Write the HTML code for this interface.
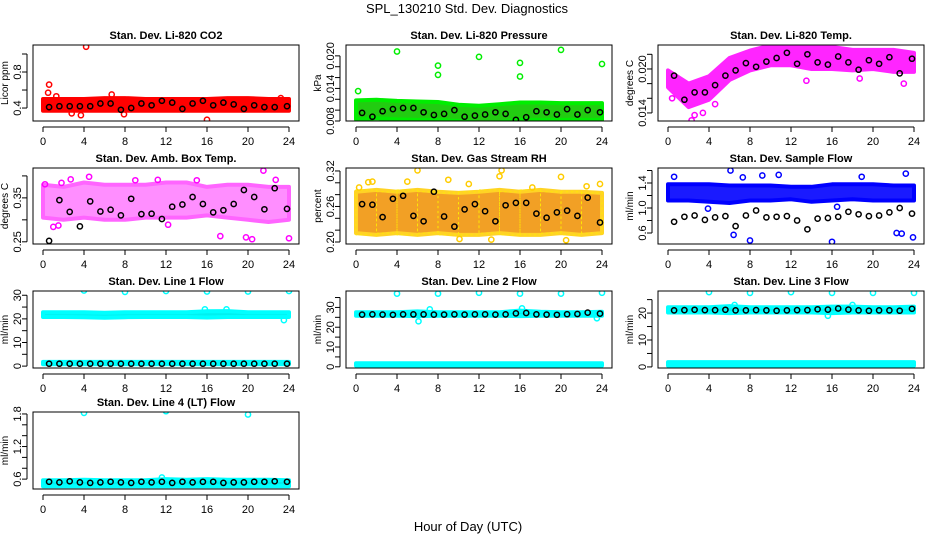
<!DOCTYPE html>
<html><head><meta charset="utf-8">
<style>
body{margin:0;background:#fff;}
svg{display:block;font-family:"Liberation Sans",Arial,sans-serif;}
</style></head>
<body>
<svg id="chart" width="936" height="540" viewBox="0 0 936 540">
<text x="467" y="13" text-anchor="middle" font-size="13">SPL_130210  Std. Dev. Diagnostics</text>
<text x="468" y="531" text-anchor="middle" font-size="13">Hour of Day (UTC)</text>
</svg>
<script>
// ---- shared data ----
const xTicks = [0,4,8,12,16,20,24];
const blackHours = [0.6,1.6,2.6,3.6,4.6,5.6,6.6,7.6,8.6,9.6,10.6,11.6,12.6,13.6,14.6,15.6,16.6,17.6,18.6,19.6,20.6,21.6,22.6,23.8];
const bandHours = [0,2,4,6,8,10,12,14,16,18,20,22,24];

// Panel 1: CO2
const co2Lo = [0.37,0.37,0.37,0.37,0.37,0.37,0.37,0.37,0.37,0.37,0.37,0.37,0.37];
const co2Hi = [0.50,0.50,0.50,0.51,0.51,0.50,0.50,0.50,0.50,0.51,0.51,0.50,0.50];
const co2OutX = [4.2,0.6,0.5,6.7,16,1.3,3.7,2.8,7.9,23.2];
const co2OutY = [1.08,0.66,0.57,0.55,0.27,0.53,0.32,0.34,0.33,0.51];
const co2Black = [0.41,0.42,0.42,0.42,0.42,0.45,0.45,0.38,0.40,0.45,0.43,0.48,0.46,0.39,0.45,0.48,0.43,0.46,0.44,0.39,0.43,0.41,0.41,0.42];

// Panel 2: Pressure
const prLo = [0.0083,0.0085,0.0083,0.0082,0.0082,0.0080,0.0077,0.0078,0.0082,0.0082,0.0082,0.0082,0.0082];
const prHi = [0.0118,0.0119,0.0117,0.0116,0.0115,0.0110,0.0108,0.0111,0.0114,0.0114,0.0113,0.0113,0.0113];
const prOutX = [0.2,4,8,8,12,16,16,20,24,12,13.5];
const prOutY = [0.0135,0.0208,0.0182,0.0165,0.0198,0.0187,0.0162,0.0211,0.0185,0.0075,0.0074];
const prBlack = [0.0095,0.0088,0.0098,0.0102,0.0104,0.0104,0.0096,0.0091,0.0093,0.0100,0.0088,0.0090,0.0092,0.0096,0.0093,0.0082,0.0087,0.0098,0.0096,0.0092,0.0102,0.0092,0.0100,0.0096];

// Panel 3: Li-820 Temp
const tpLo = [0.0175,0.0148,0.0158,0.0185,0.0198,0.0205,0.0205,0.0200,0.0200,0.0198,0.0200,0.0196,0.0196];
const tpHi = [0.0198,0.0180,0.0190,0.0215,0.0225,0.0232,0.0232,0.0230,0.0230,0.0226,0.0226,0.0226,0.0222];
const tpOutX = [2.3,2.6,3.4,4.6,13.5,18.7,23.0,0.4];
const tpOutY = [0.0130,0.0137,0.0140,0.0152,0.0184,0.0187,0.0180,0.0160];
const tpBlack = [0.0191,0.0158,0.0168,0.0168,0.0178,0.0191,0.0198,0.0208,0.0203,0.0210,0.0215,0.0222,0.0207,0.0220,0.0209,0.0206,0.0217,0.0209,0.0199,0.0212,0.0207,0.0216,0.0194,0.0214];

// Panel 4: Amb. Box Temp
const abLo = [0.305,0.300,0.305,0.300,0.300,0.305,0.305,0.305,0.310,0.305,0.300,0.295,0.300];
const abHi = [0.380,0.375,0.385,0.380,0.380,0.380,0.385,0.385,0.375,0.380,0.380,0.375,0.375];
const abOutX = [0.2,1.0,1.5,2.7,4.5,9.0,11.2,17.3,19.8,20.4,21.5,22.7,24,1.8,12.2,15];
const abOutY = [0.381,0.284,0.287,0.392,0.398,0.390,0.391,0.263,0.260,0.256,0.412,0.391,0.258,0.384,0.289,0.390];
const abBlack = [0.252,0.345,0.318,0.285,0.342,0.319,0.323,0.310,0.348,0.313,0.314,0.302,0.330,0.335,0.352,0.336,0.317,0.322,0.336,0.368,0.352,0.324,0.372,0.325];

// Panel 5: Gas Stream RH
const rhLo = [0.215,0.212,0.215,0.212,0.215,0.212,0.212,0.215,0.212,0.212,0.215,0.212,0.215];
const rhHi = [0.285,0.288,0.285,0.288,0.285,0.283,0.285,0.288,0.285,0.288,0.285,0.285,0.283];
const rhOutX = [0.3,1.2,1.6,5.0,6.0,9.0,11.0,14.0,14.2,17.2,20.0,20.5,22.5,23.8,10.1,13.2];
const rhOutY = [0.292,0.301,0.302,0.302,0.321,0.305,0.298,0.311,0.321,0.292,0.310,0.203,0.294,0.298,0.205,0.204];
const rhBlack = [0.264,0.263,0.242,0.273,0.278,0.244,0.235,0.285,0.243,0.226,0.255,0.264,0.252,0.235,0.262,0.266,0.266,0.248,0.241,0.250,0.253,0.244,0.275,0.233];

// Panel 6: Sample Flow
const sfLo = [1.12,1.12,1.10,1.08,1.12,1.12,1.14,1.10,1.12,1.14,1.12,1.12,1.12];
const sfHi = [1.38,1.38,1.38,1.36,1.36,1.36,1.34,1.34,1.38,1.38,1.38,1.36,1.36];
const sfOutX = [0.6,6.1,6.4,7.3,8,9.2,10.8,16,16.5,18.9,22.3,22.8,23.2,23.9,3.9];
const sfOutY = [1.50,1.60,0.57,1.49,0.48,1.52,1.53,0.46,1.02,1.50,0.60,0.59,1.55,0.53,0.99];
const sfBlack = [0.78,0.86,0.88,0.81,0.85,0.87,0.71,0.88,0.96,0.85,0.86,0.87,0.80,0.66,0.83,0.84,0.86,0.94,0.90,0.87,0.88,0.93,1.00,0.91];

// Panel 7: Line 1 Flow
const l1Lo = [20.8,20.8,20.7,20.5,20.7,20.8,20.8,20.8,20.6,20.8,20.8,20.8,20.8];
const l1Hi = [22.8,22.8,22.8,22.6,22.8,22.8,22.8,22.8,23.2,23.3,22.8,22.8,22.8];
const l1LowLo = [0.8,0.8,0.8,0.8,0.8,0.8,0.8,0.8,0.8,0.8,0.8,0.8,0.8];
const l1LowHi = [1.8,1.8,1.8,1.8,1.8,1.8,1.8,1.8,1.8,1.8,1.8,1.8,1.8];
const l1OutX = [4,8,12,16,20,24,15.8,17.9,23.5];
const l1OutY = [32.0,31.4,31.8,31.6,31.6,31.8,24.0,24.0,19.5];
const l1Black = [1,1,1,1,1,1,1,1,1,1,1,1,1,1,1,1,1,1,1,1,1,1,1,1];

// Panel 8: Line 2 Flow
const l2Lo = [25.8,25.8,25.8,25.6,25.8,25.8,25.8,25.8,25.6,25.8,25.8,25.8,25.8];
const l2Hi = [27.6,27.6,27.6,28.0,27.6,27.6,27.6,27.6,28.4,27.8,27.6,27.6,27.8];
const l2LowLo = [0.6,0.6,0.6,0.6,0.6,0.6,0.6,0.6,0.6,0.6,0.6,0.6,0.6];
const l2LowHi = [1.8,1.8,1.8,1.8,1.8,1.8,1.8,1.8,1.8,1.8,1.8,1.8,1.8];
const l2OutX = [4,8,12,16,20,24,6.1,7.2,16.2,23.5];
const l2OutY = [37.0,37.0,37.4,37.0,37.0,37.4,23.0,29.0,29.5,24.5];
const l2Black = [26.4,26.5,26.4,26.3,26.5,26.5,26.5,26.4,26.4,26.5,26.4,26.5,26.5,26.4,26.5,27.0,27.2,26.5,26.4,26.3,26.6,26.7,27.4,26.9];

// Panel 9: Line 3 Flow
const l3Lo = [20.2,20.2,20.2,20.0,20.2,20.2,20.2,20.2,20.0,20.2,20.2,20.2,20.2];
const l3Hi = [22.2,22.2,22.2,22.6,22.2,22.2,22.2,22.2,22.4,22.4,22.2,22.2,22.4];
const l3LowLo = [0.5,0.5,0.5,0.5,0.5,0.5,0.5,0.5,0.5,0.5,0.5,0.5,0.5];
const l3LowHi = [1.8,1.8,1.8,1.8,1.8,1.8,1.8,1.8,1.8,1.8,1.8,1.8,1.8];
const l3OutX = [4,8,12,16,20,24,6.5,15.6,18];
const l3OutY = [27.8,27.5,27.8,27.5,27.5,27.5,23.0,19.0,23.0];
const l3Black = [21.0,21.1,21.2,21.1,21.1,21.2,21.0,21.0,21.1,21.0,20.9,21.0,21.1,21.1,21.4,21.3,21.7,21.3,21.0,20.9,21.0,21.0,20.9,21.6];

// Panel 10: Line 4 (LT) Flow
const l4Lo = [0.47,0.47,0.47,0.47,0.47,0.47,0.47,0.47,0.47,0.47,0.47,0.47,0.47];
const l4Hi = [0.58,0.58,0.59,0.58,0.58,0.58,0.60,0.59,0.60,0.59,0.59,0.59,0.58];
const l4OutX = [4,12,20,11.6];
const l4OutY = [1.82,1.85,1.79,0.63];
const l4Black = [0.55,0.54,0.56,0.54,0.53,0.54,0.55,0.54,0.53,0.55,0.54,0.55,0.53,0.55,0.54,0.55,0.55,0.53,0.54,0.54,0.55,0.55,0.56,0.55];

// ---- layout ----
const colBox = [[33,299],[346,612],[658,924]];
const rowBox = [[45,121],[168,244],[291,368],[412,489]];
const NS = "http://www.w3.org/2000/svg";
const svg = document.getElementById('chart');
function mk(tag, attrs, parent){
  const e = document.createElementNS(NS, tag);
  for (const k in attrs) e.setAttribute(k, attrs[k]);
  (parent||svg).appendChild(e);
  return e;
}

const panels = [
 {title:"Stan. Dev. Li-820 CO2", ylab:"Licor ppm", col:0,row:0, dom:[0.256,1.1], ticks:[0.4,0.6,0.8,1.0], labels:[0.4,0.8], fmt:1, color:"#ff0000", fill:"#ff0000", op:1,
  lo:co2Lo, hi:co2Hi, ox:co2OutX, oy:co2OutY, black:co2Black},
 {title:"Stan. Dev. Li-820 Pressure", ylab:"kPa", col:1,row:0, dom:[0.0080,0.0220], ticks:[0.008,0.010,0.012,0.014,0.016,0.018,0.020], labels:[0.008,0.014,0.020], fmt:3, color:"#00ee00", fill:"#22cc11", op:1,
  lo:prLo, hi:prHi, ox:prOutX, oy:prOutY, black:prBlack},
 {title:"Stan. Dev. Li-820 Temp.", ylab:"degrees C", col:2,row:0, dom:[0.0129,0.02327], ticks:[0.014,0.016,0.018,0.020,0.022], labels:[0.014,0.020], fmt:3, color:"#ff00ff", fill:"#ff00ff", op:0.85,
  lo:tpLo, hi:tpHi, ox:tpOutX, oy:tpOutY, black:tpBlack},
 {title:"Stan. Dev. Amb. Box Temp.", ylab:"degrees C", col:0,row:1, dom:[0.245,0.418], ticks:[0.25,0.30,0.35,0.40], labels:[0.25,0.35], fmt:2, color:"#ff00ff", fill:"#ff44ff", op:0.6,
  lo:abLo, hi:abHi, ox:abOutX, oy:abOutY, black:abBlack},
 {title:"Stan. Dev. Gas Stream RH", ylab:"percent", col:1,row:1, dom:[0.1966,0.325], ticks:[0.20,0.22,0.24,0.26,0.28,0.30,0.32], labels:[0.20,0.26,0.32], fmt:2, color:"#ffcc00", fill:"#f09000", op:0.85,
  lo:rhLo, hi:rhHi, ox:rhOutX, oy:rhOutY, black:rhBlack},
 {title:"Stan. Dev. Sample Flow", ylab:"ml/min", col:2,row:1, dom:[0.424,1.64], ticks:[0.6,0.8,1.0,1.2,1.4,1.6], labels:[0.6,1.0,1.4], fmt:1, color:"#0000ff", fill:"#1a1aff", op:1,
  lo:sfLo, hi:sfHi, ox:sfOutX, oy:sfOutY, black:sfBlack},
 {title:"Stan. Dev. Line 1 Flow", ylab:"ml/min", col:0,row:2, dom:[-0.8,31.8], ticks:[0,5,10,15,20,25,30], labels:[0,10,20,30], fmt:0, color:"#00ffff", fill:"#00f0f0", op:1,
  lo:l1Lo, hi:l1Hi, lo2:l1LowLo, hi2:l1LowHi, ox:l1OutX, oy:l1OutY, black:l1Black},
 {title:"Stan. Dev. Line 2 Flow", ylab:"ml/min", col:1,row:2, dom:[-0.6,38.3], ticks:[0,5,10,15,20,25,30,35], labels:[0,10,20,30], fmt:0, color:"#00ffff", fill:"#00f0f0", op:1,
  lo:l2Lo, hi:l2Hi, lo2:l2LowLo, hi2:l2LowHi, ox:l2OutX, oy:l2OutY, black:l2Black},
 {title:"Stan. Dev. Line 3 Flow", ylab:"ml/min", col:2,row:2, dom:[-0.4,28.2], ticks:[0,5,10,15,20,25], labels:[0,10,20], fmt:0, color:"#00ffff", fill:"#00f0f0", op:1,
  lo:l3Lo, hi:l3Hi, lo2:l3LowLo, hi2:l3LowHi, ox:l3OutX, oy:l3OutY, black:l3Black},
 {title:"Stan. Dev. Line 4 (LT) Flow", ylab:"ml/min", col:0,row:3, dom:[0.418,1.836], ticks:[0.6,0.8,1.0,1.2,1.4,1.6,1.8], labels:[0.6,1.2,1.8], fmt:1, color:"#00ffff", fill:"#00f0f0", op:1,
  lo:l4Lo, hi:l4Hi, ox:l4OutX, oy:l4OutY, black:l4Black}
];

function near(a,b){return Math.abs(a-b)<1e-9;}

panels.forEach((p,pi)=>{
  const [L,R] = colBox[p.col], [T,B] = rowBox[p.row];
  const x0 = L+10, x1 = R-10;
  const xs = h => x0 + (h/24)*(x1-x0);
  const ys = v => B - (v-p.dom[0])/(p.dom[1]-p.dom[0])*(B-T);
  const g = mk('g',{});
  
  
  const clipId = 'clip'+pi;
  const cp = mk('clipPath',{id:clipId}, g);
  mk('rect',{x:L,y:T,width:R-L,height:B-T},cp);
  const plot = mk('g',{'clip-path':'url(#'+clipId+')'}, g);
  
  
  function band(lo,hi,name){
    let d='';
    bandHours.forEach((h,i)=>{ d += (i?'L':'M')+xs(h).toFixed(1)+','+ys(hi[i]).toFixed(1); });
    for(let i=bandHours.length-1;i>=0;i--) d += 'L'+xs(bandHours[i]).toFixed(1)+','+ys(lo[i]).toFixed(1);
    d+='Z';
    const path = mk('path',{d:d, fill:p.fill, stroke:p.color, 'stroke-width':4, 'stroke-linejoin':'round', opacity:p.op}, plot);
    
    
  }
  band(p.lo,p.hi,'series-band');
  if(p.lo2) band(p.lo2,p.hi2,'series-band-low');
  if(pi===4){
    bandHours.forEach((h,i)=>{
      if(i===0) return;
      const c = mk('rect',{x:xs(bandHours[i-1]).toFixed(1), y:ys(p.hi[i]).toFixed(1), width:(xs(h)-xs(bandHours[i-1])).toFixed(1), height:(ys(p.lo[i])-ys(p.hi[i])).toFixed(1), fill:'none', stroke:'#ffee00','stroke-width':1,'stroke-dasharray':'2 3',opacity:0.8}, plot);
      
      
    });
  }
  p.ox.forEach((h,i)=>{
    const c = mk('circle',{cx:xs(h).toFixed(1), cy:ys(p.oy[i]).toFixed(1), r:2.6, fill:'none', stroke:p.color, 'stroke-width':1.5}, plot);
    
    
  });
  p.black.forEach((v,i)=>{
    const c = mk('circle',{cx:xs(blackHours[i]).toFixed(1), cy:ys(v).toFixed(1), r:2.6, fill:'none', stroke:'#000', 'stroke-width':1.5}, plot);
    
    
  });
  const box = mk('rect',{x:L,y:T,width:R-L,height:B-T,fill:'none',stroke:'#000','stroke-width':1}, g);
  
  
  const t = mk('text',{x:(L+R)/2, y:T-6, 'text-anchor':'middle','font-size':11,'font-weight':'bold'}, g);
  t.textContent = p.title;
  
  
  const xa = mk('line',{x1:xs(0),x2:xs(24),y1:B+6,y2:B+6,stroke:'#000'}, g);
  
  
  xTicks.forEach(h=>{
    mk('line',{x1:xs(h),x2:xs(h),y1:B+6,y2:B+11,stroke:'#000'}, g);
    const tl = mk('text',{x:xs(h), y:B+24, 'text-anchor':'middle','font-size':11}, g);
    tl.textContent = h;
    
    
  });
  const ax = L-6;
  const ya = mk('line',{x1:ax,x2:ax,y1:ys(p.ticks[0]),y2:ys(p.ticks[p.ticks.length-1]),stroke:'#000'}, g);
  
  
  p.ticks.forEach(v=>{
    mk('line',{x1:ax-5,x2:ax,y1:ys(v),y2:ys(v),stroke:'#000'}, g);
    if(p.labels.some(l=>near(l,v))){
      const yy = ys(v), tx = L-12;
      const tl = mk('text',{x:tx, y:yy, 'text-anchor':'middle','font-size':11, transform:'rotate(-90 '+tx+' '+yy+')'}, g);
      tl.textContent = v.toFixed(p.fmt);
      
      
    }
  });
  const ym = (T+B)/2, yx = L-25;
  const yt = mk('text',{x:yx, y:ym, 'text-anchor':'middle','font-size':10, transform:'rotate(-90 '+yx+' '+ym+')'}, g);
  yt.textContent = p.ylab;
  
  
});
</script>
</body></html>
